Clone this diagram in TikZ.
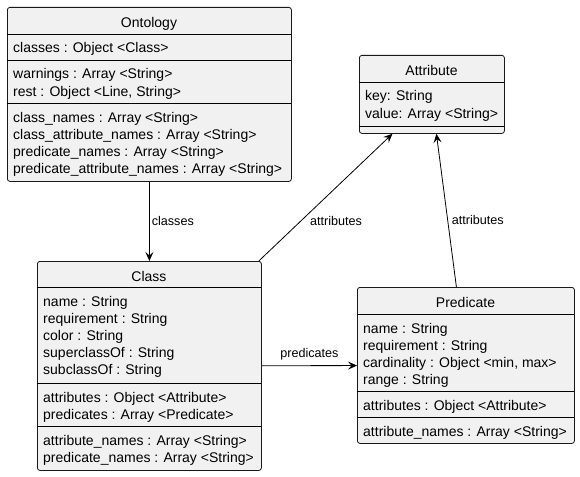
\documentclass[tikz,border=0pt]{standalone}
\usepackage{fontspec}
\setmainfont{Liberation Sans}
\usetikzlibrary{arrows.meta}
\tikzset{cls/.style={draw=black!90, fill=black!5.5, rounded corners=2.5pt, line width=.8pt, inner sep=0pt, anchor=north west}}
\tikzset{sep/.style={color=black,line width=.8}}
\tikzset{hdr/.style={anchor=base, inner sep=0pt, font=\fontsize{14}{17}\selectfont}}
\tikzset{fld/.style={anchor=base west, inner sep=0pt, font=\fontsize{14}{17}\selectfont}}
\tikzset{lbl/.style={inner sep=0pt, font=\fontsize{12.6}{15}\selectfont}}
\tikzset{assoc/.style={color=black,line width=.8,-{Stealth[length=9pt,width=8pt,inset=3.5pt]}}}

\begin{document}
\begin{tikzpicture}[x=1pt,y=-1pt]
  \useasboundingbox (0,0) rectangle (580,476);

  % Ontology
  \node[cls, minimum width=284pt, minimum height=174pt] (ontology) at (7,7) {};
  \node[hdr] (ontology-name) at (149,27.3) {Ontology};
  \draw[sep] (7,34) -- (291,34);
  \draw[sep] (7,60) -- (291,60);
  \draw[sep] (7,103) -- (291,103);
  \node[fld] (ontology-a1) at (13,53) {classes : Object <Class>};
  \foreach \f [count=\i] in {warnings : Array <String>, {rest : Object <Line, String>}} {
    \node[fld] (ontology-b\i) at (13,{79+17*(\i-1)}) {\f};
  }
  \foreach \f [count=\i] in {class\_names : Array <String>, class\_attribute\_names : Array <String>,
      predicate\_names : Array <String>, predicate\_attribute\_names : Array <String>} {
    \node[fld] (ontology-c\i) at (13,{122+17*(\i-1)}) {\f};
  }

  % Attribute
  \node[cls, minimum width=145pt, minimum height=78pt] (attribute) at (359,55) {};
  \node[hdr] (attribute-name) at (431.5,75.3) {Attribute};
  \draw[sep] (359,82) -- (504,82);
  \draw[sep] (359,126) -- (504,126);
  \foreach \f [count=\i] in {key: String, value: Array <String>} {
    \node[fld] (attribute-a\i) at (365,{101+17*(\i-1)}) {\f};
  }

  % Class
  \node[cls, minimum width=224pt, minimum height=209pt] (class) at (37,261) {};
  \node[hdr] (class-name) at (149,281.3) {Class};
  \draw[sep] (37,287) -- (261,287);
  \draw[sep] (37,383) -- (261,383);
  \draw[sep] (37,426) -- (261,426);
  \foreach \f [count=\i] in {name : String, requirement : String, color : String,
      superclassOf : String, subclassOf : String} {
    \node[fld] (class-a\i) at (43,{306+17*(\i-1)}) {\f};
  }
  \foreach \f [count=\i] in {attributes : Object <Attribute>, predicates : Array <Predicate>} {
    \node[fld] (class-b\i) at (43,{402+17*(\i-1)}) {\f};
  }
  \foreach \f [count=\i] in {attribute\_names : Array <String>, predicate\_names : Array <String>} {
    \node[fld] (class-c\i) at (43,{445+17*(\i-1)}) {\f};
  }

  % Predicate
  \node[cls, minimum width=217pt, minimum height=156pt] (predicate) at (357,287) {};
  \node[hdr] (predicate-name) at (465.5,307.3) {Predicate};
  \draw[sep] (357,314) -- (574,314);
  \draw[sep] (357,391) -- (574,391);
  \draw[sep] (357,417) -- (574,417);
  \foreach \f [count=\i] in {name : String, requirement : String,
      {cardinality : Object <min, max>}, range : String} {
    \node[fld] (predicate-a\i) at (363,{333+17*(\i-1)}) {\f};
  }
  \node[fld] (predicate-b1) at (363,410) {attributes : Object <Attribute>};
  \node[fld] (predicate-c1) at (363,436) {attribute\_names : Array <String>};

  % associations
  \draw[assoc] (ontology) -- node[lbl, anchor=base west, xshift=2pt, yshift=-4pt] (classes-lbl) {classes} (class);
  \draw[assoc] (class) -- node[lbl, anchor=base, yshift=8.5pt] (predicates-lbl) {predicates} (predicate);
  \draw[assoc] ([xshift=-3pt]class.north east) -- node[lbl, pos=.31, anchor=base west, xshift=9.5pt, yshift=-3.7pt] (class-attr-lbl) {attributes} ([xshift=-39.5pt]attribute.south);
  \draw[assoc] ([xshift=-9.5pt]predicate.north) -- node[lbl, pos=.43, anchor=base west, xshift=3.6pt, yshift=-3.7pt] (pred-attr-lbl) {attributes} ([xshift=4.5pt]attribute.south);
\end{tikzpicture}
\end{document}
